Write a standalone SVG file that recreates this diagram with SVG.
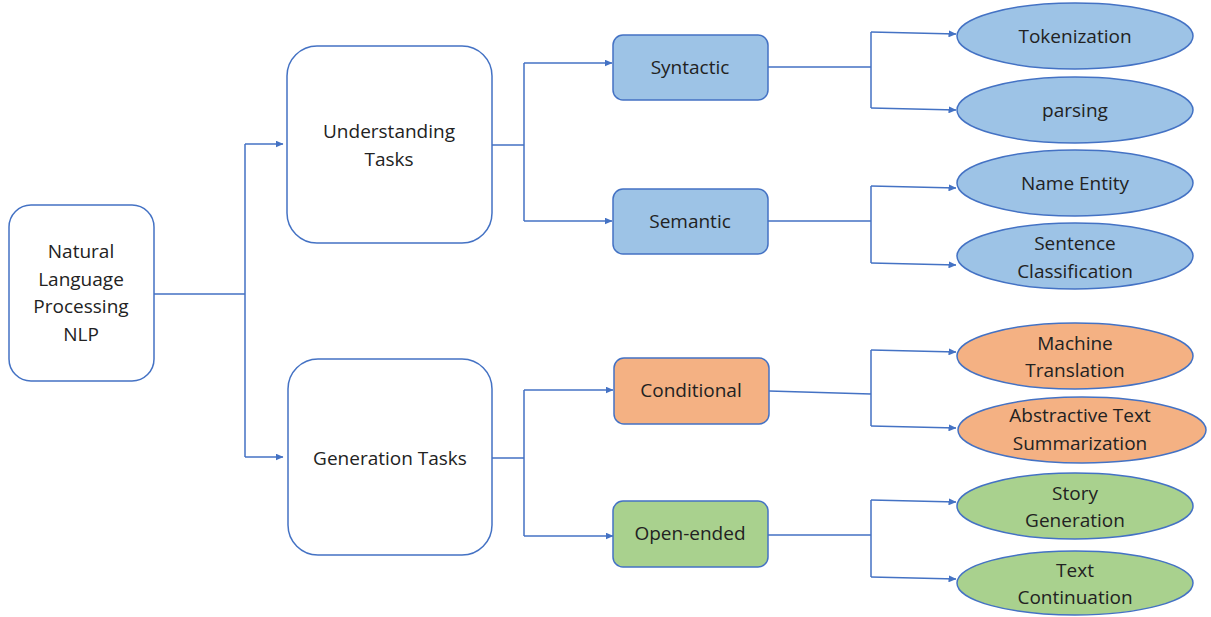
<svg xmlns="http://www.w3.org/2000/svg" width="1211" height="617" viewBox="0 0 1211 617">
<defs>
<marker id="arr" markerWidth="8" markerHeight="7" refX="7.5" refY="3.5" orient="auto" markerUnits="userSpaceOnUse">
<path d="M0,0 L8,3.5 L0,7 Z" fill="#4472C4"/>
</marker>
<style>
.t{font-family:"Open Sans","Liberation Sans",sans-serif;font-size:19px;fill:#222;text-anchor:middle;}
.w{fill:#fff;stroke:#4472C4;stroke-width:1.5;}
.b{fill:#9DC3E6;stroke:#4472C4;stroke-width:1.5;}
.o{fill:#F4B183;stroke:#4472C4;stroke-width:1.5;}
.g{fill:#A9D18E;stroke:#4472C4;stroke-width:1.5;}
.c{fill:none;stroke:#4472C4;stroke-width:1.5;}
</style>
</defs>
<rect width="1211" height="617" fill="#fff"/>
<g id="connectors">
<path class="c" d="M154,294 H245 M245,144 V457"/>
<path class="c" d="M245,144 H283" marker-end="url(#arr)"/>
<path class="c" d="M245,457 H283" marker-end="url(#arr)"/>
<path class="c" d="M492,145 H524 M524,63 V221"/>
<path class="c" d="M524,63 H612" marker-end="url(#arr)"/>
<path class="c" d="M524,221 H612" marker-end="url(#arr)"/>
<path class="c" d="M492,458 H524 M524,390 V536"/>
<path class="c" d="M524,390 H613" marker-end="url(#arr)"/>
<path class="c" d="M524,536 H613" marker-end="url(#arr)"/>
<path class="c" d="M768,67 H871 M871,32 V108"/>
<path class="c" d="M871,32 L956,34" marker-end="url(#arr)"/>
<path class="c" d="M871,108 L956,110" marker-end="url(#arr)"/>
<path class="c" d="M768,221 H871 M871,186 V263"/>
<path class="c" d="M871,186 L956,188" marker-end="url(#arr)"/>
<path class="c" d="M871,263 L956,265" marker-end="url(#arr)"/>
<path class="c" d="M769,391 L871,394 M871,350 V426"/>
<path class="c" d="M871,350 L956,352" marker-end="url(#arr)"/>
<path class="c" d="M871,426 L956,428" marker-end="url(#arr)"/>
<path class="c" d="M768,535 H871 M871,500 V577"/>
<path class="c" d="M871,500 L956,502" marker-end="url(#arr)"/>
<path class="c" d="M871,577 L956,579" marker-end="url(#arr)"/>
</g>
<g id="nlp">
<rect class="w" x="9" y="205" width="145" height="176" rx="22"/>
<text class="t" x="81" y="258">Natural</text>
<text class="t" x="81" y="286">Language</text>
<text class="t" x="81" y="313">Processing</text>
<text class="t" x="81" y="341">NLP</text>
</g>
<g id="understanding">
<rect class="w" x="287" y="46" width="205" height="197" rx="30"/>
<text class="t" x="389" y="138">Understanding</text>
<text class="t" x="389" y="166">Tasks</text>
</g>
<g id="generation">
<rect class="w" x="288" y="359" width="204" height="196" rx="30"/>
<text class="t" x="390" y="465">Generation Tasks</text>
</g>
<g id="syntactic">
<rect class="b" x="613" y="35" width="155" height="65" rx="10"/>
<text class="t" x="690" y="74">Syntactic</text>
</g>
<g id="semantic">
<rect class="b" x="613" y="189" width="155" height="65" rx="10"/>
<text class="t" x="690" y="228">Semantic</text>
</g>
<g id="conditional">
<rect class="o" x="614" y="358" width="155" height="66" rx="10"/>
<text class="t" x="691" y="397">Conditional</text>
</g>
<g id="openended">
<rect class="g" x="613" y="501" width="155" height="66" rx="10"/>
<text class="t" x="690" y="540">Open-ended</text>
</g>
<g id="tokenization">
<ellipse class="b" cx="1075" cy="36" rx="118" ry="33"/>
<text class="t" x="1075" y="43">Tokenization</text>
</g>
<g id="parsing">
<ellipse class="b" cx="1075" cy="110" rx="118" ry="33"/>
<text class="t" x="1075" y="117">parsing</text>
</g>
<g id="nameentity">
<ellipse class="b" cx="1075" cy="183" rx="118" ry="33"/>
<text class="t" x="1075" y="190">Name Entity</text>
</g>
<g id="sentence">
<ellipse class="b" cx="1075" cy="256" rx="118" ry="33"/>
<text class="t" x="1075" y="250">Sentence</text>
<text class="t" x="1075" y="278">Classification</text>
</g>
<g id="machine">
<ellipse class="o" cx="1075" cy="356" rx="118" ry="33"/>
<text class="t" x="1075" y="350">Machine</text>
<text class="t" x="1075" y="377">Translation</text>
</g>
<g id="abstractive">
<ellipse class="o" cx="1082" cy="430" rx="124" ry="33"/>
<text class="t" x="1080" y="422">Abstractive Text</text>
<text class="t" x="1080" y="450">Summarization</text>
</g>
<g id="story">
<ellipse class="g" cx="1075" cy="506" rx="118" ry="33"/>
<text class="t" x="1075" y="500">Story</text>
<text class="t" x="1075" y="527">Generation</text>
</g>
<g id="continuation">
<ellipse class="g" cx="1075" cy="583" rx="118" ry="32"/>
<text class="t" x="1075" y="577">Text</text>
<text class="t" x="1075" y="604">Continuation</text>
</g>
</svg>
